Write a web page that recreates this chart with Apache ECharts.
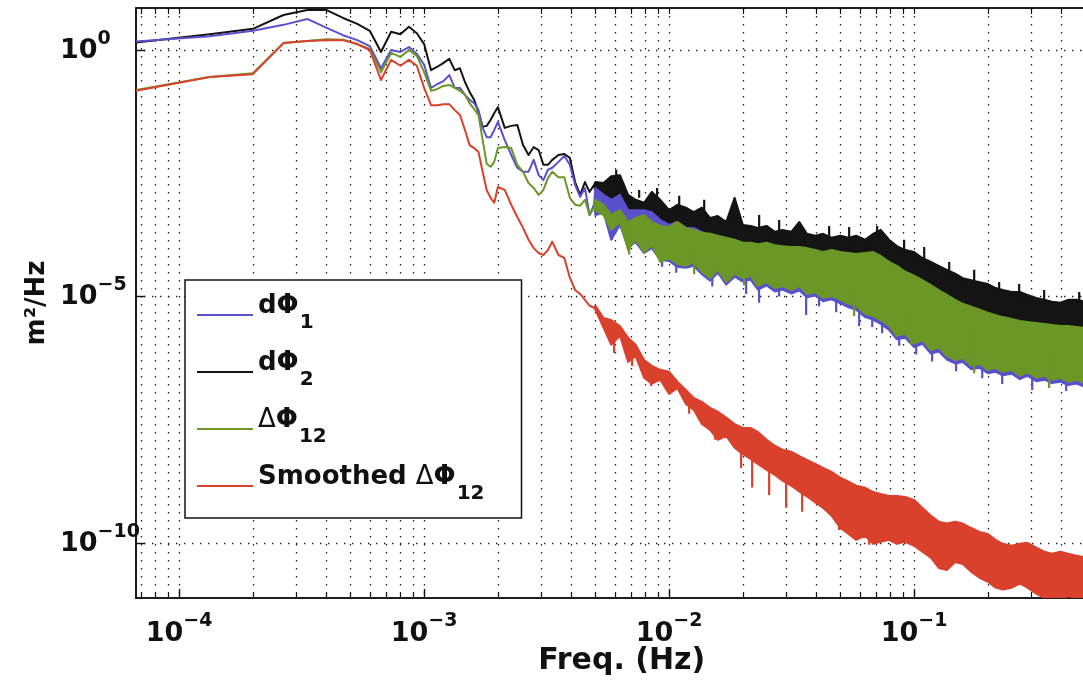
<!DOCTYPE html>
<html><head><meta charset="utf-8">
<script src="https://cdn.jsdelivr.net/npm/echarts@6/dist/echarts.min.js"></script>
<style>html,body{margin:0;padding:0;background:#fff}#c{width:1083px;height:687px}</style>
</head><body><div id="c"></div>
<script>
// ---- Frequencies (Hz) ----
const freqLine = [
  6.667e-5, 1.333e-4, 2.0e-4, 2.667e-4, 3.333e-4, 4.0e-4, 4.667e-4, 5.333e-4, 6.0e-4, 6.667e-4,
  7.333e-4, 8.0e-4, 8.667e-4, 9.333e-4, 1.0e-3, 1.067e-3, 1.133e-3, 1.2e-3, 1.267e-3, 1.333e-3,
  1.4e-3, 1.467e-3, 1.533e-3, 1.6e-3, 1.667e-3, 1.733e-3, 1.8e-3, 1.867e-3, 1.933e-3, 2.0e-3,
  2.133e-3, 2.267e-3, 2.4e-3, 2.533e-3, 2.667e-3, 2.8e-3, 2.933e-3, 3.067e-3, 3.2e-3, 3.333e-3,
  3.533e-3, 3.733e-3, 3.933e-3, 4.133e-3, 4.333e-3, 4.533e-3, 4.733e-3, 4.933e-3
];
const freqBand = [
  0.005, 0.0054, 0.0058, 0.0063, 0.0068, 0.0073, 0.0079, 0.0085, 0.0092,
  0.01, 0.0108, 0.0117, 0.0126, 0.0136, 0.0147, 0.0158, 0.0171, 0.0185,
  0.02, 0.0215, 0.023, 0.025, 0.027, 0.029, 0.0315, 0.034, 0.0365, 0.0395, 0.0425, 0.046,
  0.05, 0.054, 0.058, 0.063, 0.068, 0.073, 0.079, 0.085, 0.092,
  0.1, 0.108, 0.117, 0.126, 0.136, 0.147, 0.158, 0.171, 0.185,
  0.2, 0.215, 0.23, 0.25, 0.27, 0.29, 0.315, 0.34, 0.365, 0.395, 0.425, 0.46,
  0.5
];

// ---- PSD values, log10(m^2/Hz), low-frequency single-trace part ----
const blackLine = [
  0.15, 0.32, 0.43, 0.71, 0.81, 0.81, 0.65, 0.53, 0.39, -0.04,
  0.37, 0.32, 0.47, 0.34, 0.12, -0.41, -0.34, -0.26, -0.18, -0.41,
  -0.37, -0.65, -0.85, -1.01, -1.26, -1.56, -1.54, -1.42, -1.28, -1.16,
  -1.58, -1.54, -1.52, -1.93, -2.13, -1.97, -2.03, -2.33, -2.33, -2.23,
  -2.13, -2.11, -2.19, -2.68, -2.94, -2.68, -2.88, -2.74
];
const blueLine = [
  0.17, 0.28, 0.39, 0.51, 0.63, 0.45, 0.30, 0.20, 0.08, -0.37,
  0.00, -0.04, 0.06, -0.08, -0.30, -0.77, -0.69, -0.63, -0.51, -0.77,
  -0.77, -0.91, -1.01, -1.08, -1.22, -1.58, -1.77, -1.77, -1.62, -1.46,
  -1.83, -2.13, -2.39, -2.47, -2.47, -2.23, -2.54, -2.64, -2.43, -2.39,
  -2.27, -2.15, -2.33, -2.74, -2.98, -2.80, -3.35, -3.14
];
const greenLine = [
  -0.81, -0.55, -0.47, 0.14, 0.18, 0.22, 0.21, 0.12, 0.02, -0.45,
  -0.06, -0.14, 0.00, -0.12, -0.45, -0.83, -0.79, -0.73, -0.71, -0.77,
  -0.83, -0.91, -1.08, -1.20, -1.32, -1.83, -2.31, -2.37, -2.27, -1.99,
  -1.97, -1.99, -2.33, -2.47, -2.70, -2.80, -2.94, -2.84, -2.60, -2.47,
  -2.58, -2.58, -3.00, -3.14, -3.16, -3.04, -3.35, -3.20
];
const redLine = [
  -0.83, -0.55, -0.49, 0.14, 0.18, 0.20, 0.20, 0.12, 0.00, -0.61,
  -0.20, -0.32, -0.20, -0.32, -0.77, -1.12, -1.12, -1.10, -1.10, -1.22,
  -1.32, -1.62, -1.93, -1.99, -2.07, -2.47, -2.84, -3.00, -3.10, -2.78,
  -2.84, -3.14, -3.39, -3.61, -3.85, -4.02, -4.12, -4.16, -4.06, -3.89,
  -4.16, -4.22, -4.62, -4.87, -4.95, -5.07, -5.19, -5.23
];

// ---- Dense high-frequency part: upper / lower envelopes, log10(m^2/Hz) ----
const blackHi = [
  -2.68, -2.70, -2.56, -2.54, -2.94, -3.04, -3.10, -2.88, -3.04,
  -3.25, -3.14, -3.20, -3.29, -3.20, -3.41, -3.37, -3.49, -3.00,
  -3.55, -3.57, -3.61, -3.57, -3.69, -3.65, -3.69, -3.49, -3.73, -3.77, -3.73, -3.81,
  -3.77, -3.81, -3.77, -3.85, -3.73, -3.65, -3.85, -3.98, -4.06,
  -4.10, -4.22, -4.30, -4.38, -4.46, -4.54, -4.63, -4.67, -4.71,
  -4.75, -4.83, -4.87, -4.91, -4.91, -4.97, -5.03, -5.07, -5.11, -5.13, -5.07, -5.07,
  -5.11
];
const blackLo = [
  -2.88, -2.94, -3.04, -2.96, -3.29, -3.35, -3.49, -3.35, -3.49,
  -3.65, -3.69, -3.81, -3.77, -3.85, -4.30, -4.06, -4.46, -4.10,
  -4.22, -4.18, -4.30, -4.30, -4.38, -4.42, -4.34, -4.42, -4.46, -4.50, -4.46, -4.58,
  -4.54, -4.67, -4.71, -4.75, -4.79, -4.87, -4.91, -5.03, -5.11,
  -5.19, -5.27, -5.40, -5.44, -5.56, -5.64, -5.72, -5.80, -5.84,
  -5.92, -5.96, -6.00, -6.09, -6.13, -6.17, -6.21, -6.25, -6.29, -6.29, -6.33, -6.33,
  -6.37
];
const blueHi = [
  -2.80, -2.94, -3.04, -2.94, -3.25, -3.25, -3.25, -3.29, -3.45,
  -3.55, -3.49, -3.61, -3.61, -3.69, -3.77, -3.81, -3.85, -3.89,
  -3.98, -3.98, -4.00, -3.98, -4.02, -4.04, -4.06, -4.06, -4.08, -4.12, -4.16, -4.12,
  -4.16, -4.18, -4.20, -4.18, -4.16, -4.24, -4.36, -4.44, -4.56,
  -4.65, -4.73, -4.83, -4.93, -5.03, -5.13, -5.21, -5.27, -5.33,
  -5.40, -5.44, -5.48, -5.52, -5.56, -5.58, -5.60, -5.62, -5.64, -5.66, -5.66, -5.68,
  -5.70
];
const blueLo = [
  -3.35, -3.30, -3.85, -3.55, -4.00, -3.90, -4.12, -4.02, -4.26,
  -4.28, -4.40, -4.42, -4.38, -4.55, -4.68, -4.52, -4.76, -4.60,
  -4.70, -4.66, -4.86, -4.78, -4.90, -4.86, -4.94, -4.88, -5.02, -4.98, -5.10, -5.06,
  -5.14, -5.22, -5.27, -5.42, -5.47, -5.56, -5.68, -5.87, -5.84,
  -6.03, -5.96, -6.16, -6.12, -6.28, -6.36, -6.33, -6.48, -6.45,
  -6.56, -6.53, -6.60, -6.57, -6.68, -6.61, -6.72, -6.69, -6.76, -6.73, -6.80, -6.77,
  -6.84
];
const greenHi = [
  -3.04, -3.14, -3.35, -3.25, -3.49, -3.41, -3.35, -3.49, -3.57,
  -3.59, -3.49, -3.61, -3.65, -3.71, -3.73, -3.77, -3.81, -3.85,
  -3.91, -3.91, -3.94, -3.91, -3.96, -3.98, -4.00, -4.00, -4.02, -4.06, -4.10, -4.06,
  -4.10, -4.12, -4.14, -4.12, -4.10, -4.18, -4.30, -4.38, -4.50,
  -4.58, -4.67, -4.77, -4.87, -4.97, -5.07, -5.15, -5.21, -5.27,
  -5.33, -5.38, -5.42, -5.46, -5.50, -5.52, -5.54, -5.56, -5.58, -5.60, -5.60, -5.62,
  -5.64
];
const greenLo = [
  -3.25, -3.35, -3.65, -3.49, -4.06, -3.85, -4.10, -3.96, -4.30,
  -4.22, -4.34, -4.38, -4.30, -4.50, -4.63, -4.46, -4.71, -4.54,
  -4.63, -4.58, -4.79, -4.71, -4.83, -4.79, -4.87, -4.79, -4.95, -4.91, -5.03, -4.99,
  -5.07, -5.15, -5.19, -5.35, -5.40, -5.48, -5.60, -5.80, -5.76,
  -5.96, -5.88, -6.09, -6.04, -6.21, -6.29, -6.25, -6.41, -6.37,
  -6.49, -6.45, -6.53, -6.49, -6.61, -6.53, -6.65, -6.61, -6.69, -6.65, -6.73, -6.69,
  -6.77
];
const redHi = [
  -5.19, -5.44, -5.48, -5.60, -5.84, -5.98, -6.29, -6.41, -6.49,
  -6.53, -6.73, -6.90, -7.06, -7.14, -7.26, -7.34, -7.46, -7.59,
  -7.67, -7.67, -7.75, -7.91, -8.03, -8.11, -8.15, -8.24, -8.32, -8.40, -8.48, -8.56,
  -8.68, -8.76, -8.84, -8.88, -8.97, -9.01, -9.05, -9.05, -9.07,
  -9.13, -9.29, -9.45, -9.57, -9.61, -9.57, -9.61, -9.70, -9.78,
  -9.82, -9.94, -10.02, -10.06, -10.02, -10.00, -10.10, -10.18, -10.22, -10.18, -10.22, -10.26,
  -10.30
];
const redLo = [
  -5.27, -5.64, -5.98, -5.80, -6.33, -6.21, -6.65, -6.77, -6.69,
  -6.98, -6.86, -7.18, -7.30, -7.59, -7.71, -7.91, -7.83, -8.07,
  -8.20, -8.30, -8.40, -8.52, -8.62, -8.74, -8.84, -8.96, -9.06, -9.18, -9.29, -9.45,
  -9.70, -9.82, -9.94, -9.86, -10.02, -9.98, -9.94, -10.02, -9.98,
  -10.06, -10.18, -10.30, -10.51, -10.55, -10.39, -10.43, -10.59, -10.71,
  -10.79, -10.91, -10.95, -10.91, -10.83, -10.91, -11.03, -11.12, -11.16, -11.16, -11.08, -11.12,
  -11.12
];

// ---- Isolated spikes: [freq Hz, start log10, tip log10] ----
const blackSpikes = [
  [0.00608, -2.70, -2.43], [0.007544, -3.00, -2.84], [0.00893, -3.00, -2.80], [0.01099, -3.20, -2.96],
  [0.0139, -3.30, -3.04], [0.0233, -3.70, -3.35], [0.02812, -3.70, -3.45], [0.04498, -3.85, -3.57],
  [0.05429, -3.90, -3.59], [0.07063, -3.80, -3.57], [0.0910, -4.10, -3.85], [0.1099, -4.30, -4.00],
  [0.1390, -4.50, -4.30], [0.1758, -4.75, -4.46], [0.2223, -4.90, -4.71], [0.2683, -5.00, -4.75],
  [0.3393, -5.15, -4.87], [0.4716, -5.15, -4.91]
];
const blueSpikes = [
  [0.00585, -3.30, -3.85], [0.00790, -3.60, -4.06], [0.00936, -3.90, -4.40], [0.01069, -4.00, -4.52],
  [0.0150, -4.30, -4.80], [0.02062, -4.30, -4.95], [0.02328, -4.40, -5.13], [0.02811, -4.40, -5.00],
  [0.03623, -4.50, -5.38], [0.04093, -4.60, -5.20], [0.04804, -4.60, -5.32], [0.05966, -4.80, -5.60],
  [0.06745, -4.90, -5.62], [0.0740, -5.00, -5.75], [0.08686, -5.10, -6.00], [0.1019, -5.30, -6.18],
  [0.1184, -5.40, -6.32], [0.1483, -5.60, -6.52], [0.1896, -5.80, -6.66], [0.2287, -6.00, -6.78],
  [0.3033, -6.10, -6.90], [0.4173, -6.20, -6.92]
];
const greenSpikes = [
  [0.006866, -3.60, -4.15], [0.01265, -4.00, -4.55], [0.02023, -4.30, -4.78], [0.05689, -4.80, -5.40],
  [0.09727, -5.20, -5.98], [0.1758, -5.70, -6.56], [0.3556, -6.10, -6.86]
];
const redSpikes = [
  [0.005964, -5.70, -6.15], [0.007063, -6.00, -6.41], [0.008442, -6.45, -6.82], [0.01207, -7.00, -7.38],
  [0.01541, -7.50, -7.91], [0.01967, -7.90, -8.48], [0.02182, -8.00, -8.88], [0.02560, -8.10, -9.03],
  [0.03002, -8.30, -9.29], [0.03490, -8.40, -9.37], [0.04941, -8.90, -9.74], [0.05799, -9.00, -9.90],
  [0.06551, -9.10, -10.04]
];

// ---- Axes: limits and ticks ----
const xLimits = [6.667e-5, 0.5];          // Hz
const yLimitsExp = [-11.12, 0.852];       // log10(m^2/Hz)
const xMajorTicks = [1e-4, 1e-3, 1e-2, 1e-1];
const xMinorTicks = [7e-5, 8e-5, 9e-5,
  2e-4, 3e-4, 4e-4, 5e-4, 6e-4, 7e-4, 8e-4, 9e-4,
  2e-3, 3e-3, 4e-3, 5e-3, 6e-3, 7e-3, 8e-3, 9e-3,
  2e-2, 3e-2, 4e-2, 5e-2, 6e-2, 7e-2, 8e-2, 9e-2,
  2e-1, 3e-1, 4e-1];
const yMajorTickExp = [0, -5, -10];

const seriesNames = ['dΦ1', 'dΦ2', 'ΔΦ12', 'Smoothed ΔΦ12'];
const seriesColors = ['#5b50cc', '#141414', '#6a9726', '#d9412d'];

// ---------------------------------------------------------------
const L10 = Math.log10;
const FONT = 'DejaVu Sans';
const INK = '#111';

function buildRows(line, hi, lo) {
  const rows = [];
  freqLine.forEach((f, i) => rows.push([L10(f), line[i], line[i]]));
  freqBand.forEach((f, i) => rows.push([L10(f), hi[i], lo[i]]));
  return rows;
}

function bandRender(color, spikes) {
  return function (params, api) {
    if (params.dataIndexInside !== 0) return null;
    const n = params.dataInsideLength;
    const top = [], bot = [];
    for (let i = 0; i < n; i++) {
      const x = api.value(0, i);
      top.push(api.coord([x, api.value(1, i)]));
      bot.push(api.coord([x, api.value(2, i)]));
    }
    const cs = params.coordSys;
    const children = [{
      type: 'polygon',
      shape: { points: top.concat(bot.reverse()) },
      style: { fill: color, stroke: color, lineWidth: 2, lineJoin: 'round' }
    }];
    spikes.forEach(s => {
      const a = api.coord([L10(s[0]), s[1]]);
      const b = api.coord([L10(s[0]), s[2]]);
      children.push({
        type: 'line',
        shape: { x1: a[0], y1: a[1], x2: b[0], y2: b[1] },
        style: { stroke: color, lineWidth: 2.2, lineCap: 'butt' }
      });
    });
    return {
      type: 'group',
      clipPath: { type: 'rect', shape: { x: cs.x, y: cs.y, width: cs.width, height: cs.height } },
      children: children
    };
  };
}

const dataSets = [
  buildRows(blueLine, blueHi, blueLo),
  buildRows(blackLine, blackHi, blackLo),
  buildRows(greenLine, greenHi, greenLo),
  buildRows(redLine, redHi, redLo)
];
const spikeSets = [blueSpikes, blackSpikes, greenSpikes, redSpikes];
// drawing order: black, blue, green, red (red on top)
const drawOrder = [1, 0, 2, 3];

const series = drawOrder.map(i => ({
  type: 'custom',
  name: seriesNames[i],
  coordinateSystem: 'cartesian2d',
  dimensions: ['x', 'hi', 'lo'],
  encode: { x: 'x', y: ['hi', 'lo'] },
  itemStyle: { color: seriesColors[i] },
  renderItem: bandRender(seriesColors[i], spikeSets[i]),
  data: dataSets[i],
  silent: true,
  animation: false
}));

const dotted = { color: '#222', width: 1.3, type: [1.4, 6.6] };
const expRich = {
  b: { fontFamily: FONT, fontSize: 27, fontWeight: 'bold', color: INK, lineHeight: 30, padding: [8, 0, 0, 0], verticalAlign: 'top' },
  e: { fontFamily: FONT, fontSize: 19, fontWeight: 'bold', color: INK, lineHeight: 20, verticalAlign: 'top' }
};
function expLabel(v) {
  const n = Math.round(v);
  return '{b|10}{e|' + (n < 0 ? '\u2212' + (-n) : n) + '}';
}

const legendText = {
  'dΦ1': '{b|dΦ}{s|1}',
  'dΦ2': '{b|dΦ}{s|2}',
  'ΔΦ12': '{g|Δ}{b|Φ}{s|12}',
  'Smoothed ΔΦ12': '{b|Smoothed }{g|Δ}{b|Φ}{s|12}'
};

const xBase = { type: 'value', min: L10(xLimits[0]), max: L10(xLimits[1]) };

const option = {
  backgroundColor: '#fff',
  animation: false,
  grid: { left: 136, top: 8, right: -2.4, bottom: 89, show: true, borderColor: INK, borderWidth: 1.6, containLabel: false, outerBoundsMode: 'none' },
  xAxis: [
    Object.assign({}, xBase, {
      position: 'bottom',
      axisLine: { show: true, onZero: false, lineStyle: { color: INK, width: 1.6 } },
      axisTick: { show: true, inside: true, length: 9, lineStyle: { color: INK, width: 1.4 }, customValues: xMajorTicks.map(L10) },
      axisLabel: { show: true, margin: 14, customValues: xMajorTicks.map(L10), formatter: expLabel, rich: expRich },
      splitLine: { show: true, lineStyle: dotted },
      name: 'Freq. (Hz)', nameLocation: 'middle', nameGap: 48, nameMoveOverlap: false,
      nameTextStyle: { fontFamily: FONT, fontSize: 30, fontWeight: 'bold', color: INK, padding: [0, 0, 0, 22] }
    }),
    Object.assign({}, xBase, {
      position: 'bottom',
      axisLine: { show: false, onZero: false },
      axisTick: { show: true, inside: true, length: 5, lineStyle: { color: INK, width: 1.2 }, customValues: xMinorTicks.map(L10) },
      axisLabel: { show: false },
      splitLine: { show: true, lineStyle: dotted }
    }),
    Object.assign({}, xBase, {
      position: 'top',
      axisLine: { show: true, onZero: false, lineStyle: { color: INK, width: 1.6 } },
      axisTick: { show: true, inside: true, length: 6, lineStyle: { color: INK, width: 1.2 }, customValues: xMajorTicks.concat(xMinorTicks).map(L10) },
      axisLabel: { show: false },
      splitLine: { show: false }
    })
  ],
  yAxis: [{
    type: 'value', min: yLimitsExp[0], max: yLimitsExp[1],
    axisLine: { show: true, onZero: false, lineStyle: { color: INK, width: 1.6 } },
    axisTick: { show: true, inside: true, length: 9, lineStyle: { color: INK, width: 1.4 }, customValues: yMajorTickExp },
    axisLabel: { show: true, align: 'left', margin: 76, padding: [0, 0, 11, 0], customValues: yMajorTickExp, formatter: expLabel, rich: expRich },
    splitLine: { show: true, lineStyle: dotted },
    name: 'm²/Hz', nameLocation: 'middle', nameGap: 86, nameRotate: 90, nameMoveOverlap: false,
    nameTextStyle: { fontFamily: FONT, fontSize: 26, fontWeight: 'bold', color: INK }
  }],
  legend: {
    orient: 'vertical', left: 185, top: 280,
    data: seriesNames.map(n => ({ name: n, icon: 'rect' })),
    itemWidth: 56, itemHeight: 2, itemGap: 17,
    padding: [13, 37, 14, 12],
    borderColor: INK, borderWidth: 1.5, backgroundColor: '#fff', borderRadius: 0,
    selectedMode: false,
    formatter: n => legendText[n],
    textStyle: {
      color: INK, fontFamily: FONT, padding: [0, 0, 14, 0],
      rich: {
        b: { fontFamily: FONT, fontSize: 26, fontWeight: 'bold', color: INK, lineHeight: 30, verticalAlign: 'top' },
        g: { fontFamily: FONT, fontSize: 26, fontWeight: 'normal', color: INK, lineHeight: 30, verticalAlign: 'top' },
        s: { fontFamily: FONT, fontSize: 20, fontWeight: 'bold', color: INK, lineHeight: 20, padding: [20, 0, 0, 1], verticalAlign: 'top' }
      }
    }
  },
  series: series
};

const chart = echarts.init(document.getElementById('c'), null, { renderer: 'canvas' });
chart.setOption(option);
</script>
</body></html>
